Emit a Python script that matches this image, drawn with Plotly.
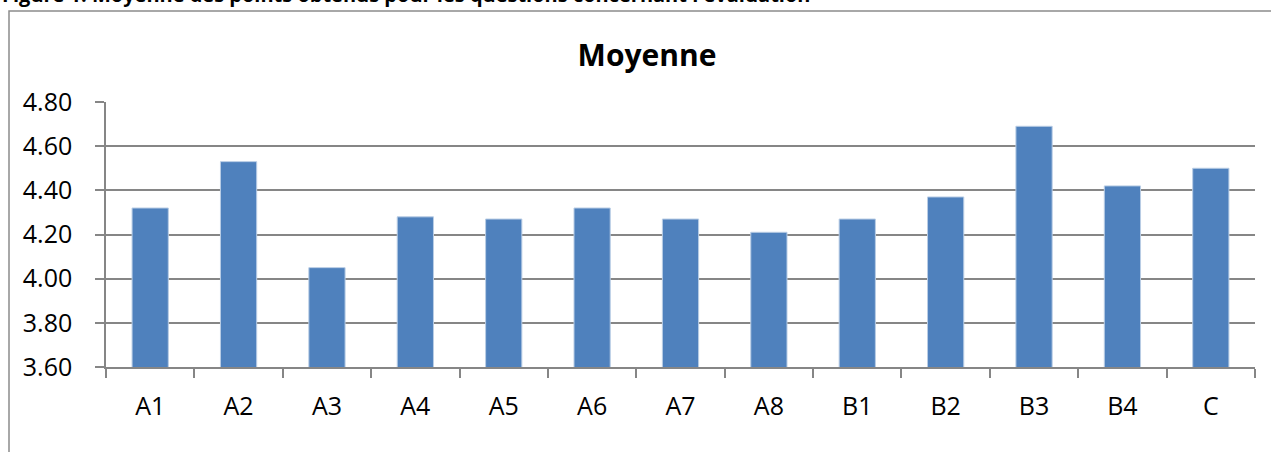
import plotly.graph_objects as go

# Average score per question
questions = ["A1", "A2", "A3", "A4", "A5", "A6", "A7", "A8", "B1", "B2", "B3", "B4", "C"]
moyenne = [4.32, 4.53, 4.05, 4.28, 4.27, 4.32, 4.27, 4.21, 4.27, 4.37, 4.69, 4.42, 4.50]
y_ticks = [3.60, 3.80, 4.00, 4.20, 4.40, 4.60, 4.80]

W, H = 1271, 452
L, R, T, B = 106, 16, 102, 85
pw, ph = W - L - R, H - T - B

def px_x(x):
    return (x - L) / pw

def px_y(y):
    return (H - B - y) / ph

fig = go.Figure(
    go.Bar(
        x=questions,
        y=moyenne,
        marker=dict(color="#4F81BD", line=dict(color="#B9CDE5", width=1)),
        hoverinfo="x+y",
    )
)

grid = "#868686"
font_family = "Open Sans, Liberation Sans, sans-serif"

fig.update_layout(
    width=W,
    height=H,
    margin=dict(l=L, r=R, t=T, b=B),
    paper_bgcolor="white",
    plot_bgcolor="white",
    bargap=0.59,
    showlegend=False,
    font=dict(family=font_family, color="black"),
    title=dict(
        text="<b>Moyenne</b>",
        x=647 / W,
        xref="container",
        xanchor="center",
        y=1 - 55 / H,
        yanchor="middle",
        font=dict(size=30, family=font_family, color="black"),
    ),
    xaxis=dict(
        type="category",
        showgrid=False,
        showline=True,
        linecolor=grid,
        linewidth=1.5,
        ticks="outside",
        tickson="boundaries",
        ticklen=9,
        tickwidth=1.5,
        tickcolor=grid,
        tickfont=dict(size=25),
        ticklabelstandoff=16,
    ),
    yaxis=dict(
        range=[3.6, 4.8],
        tickvals=y_ticks,
        ticktext=[f"{v:.2f}" for v in y_ticks],
        showgrid=True,
        gridcolor=grid,
        gridwidth=1.5,
        showline=True,
        linecolor=grid,
        linewidth=1.5,
        ticks="outside",
        ticklen=9,
        tickwidth=1.5,
        tickcolor=grid,
        tickfont=dict(size=25),
        ticklabelstandoff=18,
        zeroline=False,
    ),
    shapes=[
        dict(
            type="rect",
            xref="paper",
            yref="paper",
            x0=px_x(9),
            x1=px_x(W + 20),
            y0=px_y(H + 20),
            y1=px_y(11),
            line=dict(color="#8C8C8C", width=1.5),
            fillcolor="rgba(0,0,0,0)",
            layer="below",
        )
    ],
    annotations=[
        dict(
            text="<b>Figure 1: Moyenne des points obtenus pour les questions concernant l'évaluation</b>",
            xref="paper",
            yref="paper",
            x=px_x(0),
            y=px_y(-6),
            xanchor="left",
            yanchor="middle",
            showarrow=False,
            font=dict(size=20, family=font_family, color="black"),
        )
    ],
)

fig.write_html("out.html")
